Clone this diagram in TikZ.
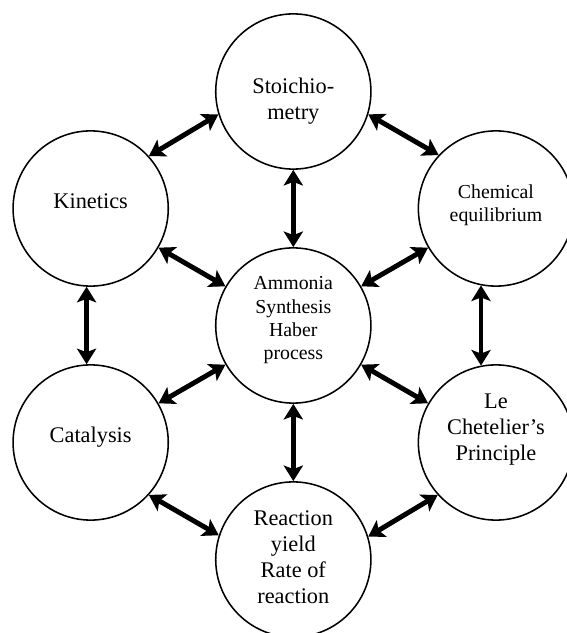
\documentclass[tikz,border=0pt]{standalone}
\usepackage{fontspec}
\setmainfont{Liberation Serif}
\usetikzlibrary{arrows.meta}

\begin{document}
\begin{tikzpicture}[topic/.style={circle,draw,line width=1.1pt,minimum size=3.88cm,inner sep=0pt,align=center,font=\fontsize{15.9}{18.5}\selectfont,text height=0pt,text depth=0pt},smalltopic/.style={topic,font=\fontsize{14.1}{16.6}\selectfont},link/.style={{Stealth[length=3.9mm,width=4.8mm,inset=0.9mm]}-{Stealth[length=3.9mm,width=4.8mm,inset=0.9mm]},line width=3.5pt}]
\useasboundingbox (-7.333,-7.6875) rectangle (6.8175,8.1375);

\node[smalltopic,text height=49pt] (hub) at (0,0) {Ammonia\\Synthesis\\Haber\\process};
\node[topic,text height=40.5pt] (stoich) at (90:5.85) {Stoichio-\\metry};
\node[smalltopic,text height=19.2pt] (equil) at (30:5.85) {Chemical\\equilibrium};
\node[topic,text height=26.3pt] (lechat) at (-30:5.85) {Le\\Chetelier’s\\Principle};
\node[topic,text height=62.5pt] (yield) at (-90:5.85) {Reaction\\yield\\Rate of\\reaction};
\node[topic] (catal) at (210:5.85) {Catalysis};
\node[topic] (kinet) at (150:5.85) {Kinetics};

\draw[link] (hub) -- (stoich);
\draw[link] (hub) -- (equil);
\draw[link] (hub) -- (lechat);
\draw[link] (hub) -- (yield);
\draw[link] (hub) -- (catal);
\draw[link] (hub) -- (kinet);
\draw[link] (kinet.42.5) -- (stoich.197.5);
\draw[link] (stoich.-17.5) -- (equil.137.5);
\draw[link] (equil.-101) -- (lechat.101);
\draw[link] (lechat.222.5) -- (yield.17.5);
\draw[link] (yield.162.5) -- (catal.-42.5);
\draw[link] (catal.93.8) -- (kinet.-93.8);

\end{tikzpicture}
\end{document}
